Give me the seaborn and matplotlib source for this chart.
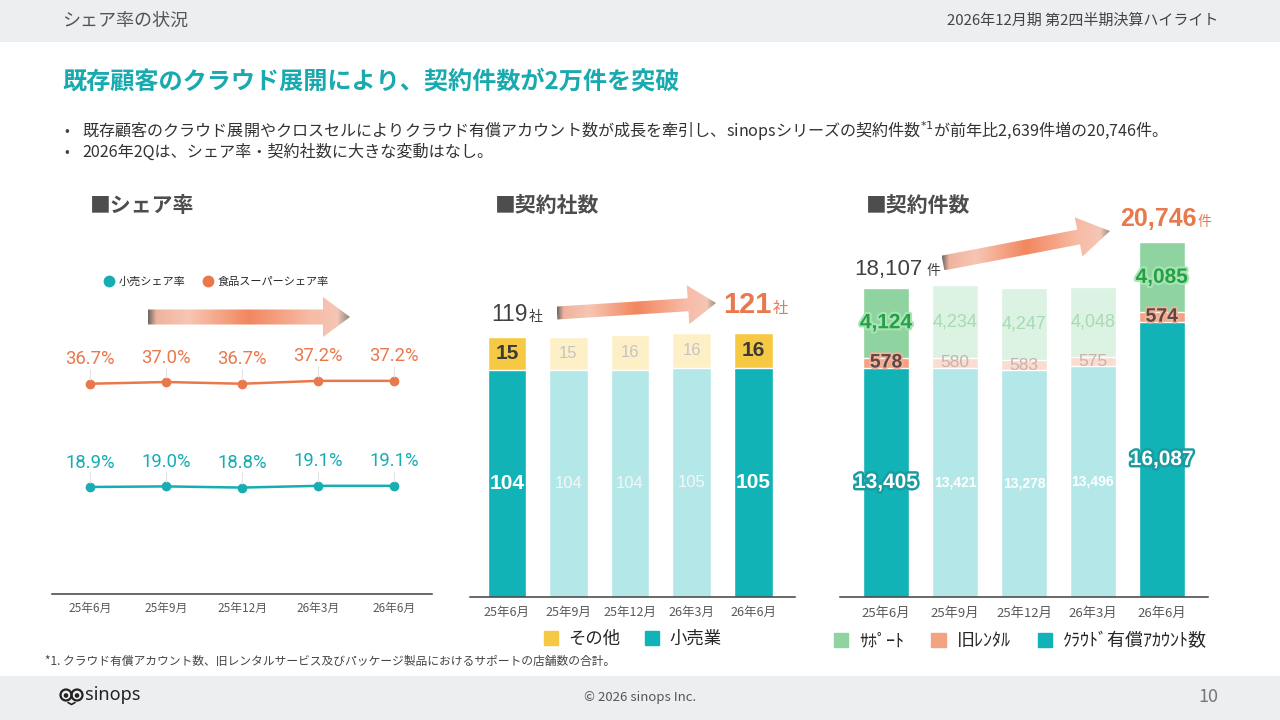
import numpy as np
import pandas as pd
import matplotlib
matplotlib.use('Agg')
import matplotlib.pyplot as plt
import seaborn as sns
from matplotlib.patches import Polygon, Rectangle, Circle
from matplotlib.lines import Line2D
from matplotlib.colors import LinearSegmentedColormap
import matplotlib.patheffects as pe

# data
periods = ['25年6月', '25年9月', '25年12月', '26年3月', '26年6月']
retail_share = [18.9, 19.0, 18.8, 19.1, 19.1]
super_share = [36.7, 37.0, 36.7, 37.2, 37.2]
companies_retail = [104, 104, 104, 105, 105]
companies_other = [15, 15, 16, 16, 16]
accounts_cloud = [13405, 13421, 13278, 13496, 16087]
accounts_rental = [578, 580, 583, 575, 574]
accounts_support = [4124, 4234, 4247, 4048, 4085]
highlight = [True, False, False, False, True]

TEAL = '#11b3b6'
TEAL_L = '#b4e8e8'
YEL = '#f6c944'
YEL_L = '#fdf0c6'
SAL = '#f3a283'
SAL_L = '#fbdcd1'
GRN = '#8fd3a1'
GRN_L = '#dcf2e2'
ORANGE = '#e9784d'
LINE_TEAL = '#17adb3'
DARK = '#4d4d4d'

sns.set_theme(style='white')
plt.rcParams['font.family'] = ['Noto Sans CJK JP', 'DejaVu Sans']
NUM = ['Liberation Sans', 'Noto Sans CJK JP']

fig = plt.figure(figsize=(12.8, 7.2), dpi=100)
fig.patch.set_facecolor('white')

# overlay axes in pixel coordinates for slide decoration
bg = fig.add_axes([0, 0, 1, 1], zorder=10)
bg.set_facecolor('none')
bg.axis('off')


def px_axes(x0, y0, x1, y1):
    return fig.add_axes([x0 / 1280, 1 - y1 / 720, (x1 - x0) / 1280, (y1 - y0) / 720])


def pal(strong, light):
    return {p: (strong if h else light) for p, h in zip(periods, highlight)}


arrow_cmap = LinearSegmentedColormap.from_list('arr', [
    (0.0, '#6f6866'), (0.04, '#efb39d'), (0.2, '#f7c6b3'), (0.5, '#f2875f'),
    (0.8, '#f7bba5'), (0.94, '#f5c6b5'), (1.0, '#8e8582')])


def grad_arrow(p0, p1, shaft, head_w, head_len):
    x0, y0 = p0
    x1, y1 = p1
    L = np.hypot(x1 - x0, y1 - y0)
    ux, uy = (x1 - x0) / L, (y1 - y0) / L
    nx, ny = -uy, ux
    bx, by = x1 - ux * head_len, y1 - uy * head_len
    pts = [(x0 + nx * shaft / 2, y0 + ny * shaft / 2),
           (bx + nx * shaft / 2, by + ny * shaft / 2),
           (bx + nx * head_w / 2, by + ny * head_w / 2),
           (x1, y1),
           (bx - nx * head_w / 2, by - ny * head_w / 2),
           (bx - nx * shaft / 2, by - ny * shaft / 2),
           (x0 - nx * shaft / 2, y0 - ny * shaft / 2)]
    poly = Polygon(pts, closed=True, facecolor='none', edgecolor='none')
    bg.add_patch(poly)
    xs = [p[0] for p in pts]
    ys = [p[1] for p in pts]
    im = bg.imshow(np.linspace(0, 1, 256).reshape(1, -1), cmap=arrow_cmap,
                   extent=(min(xs), max(xs), max(ys), min(ys)), aspect='auto',
                   interpolation='bilinear')
    im.set_clip_path(poly)


# header / footer
bg.add_patch(Rectangle((0, 0), 1280, 42, color='#eceeef', lw=0))
bg.add_patch(Rectangle((0, 676), 1280, 44, color='#eceeef', lw=0))
bg.text(62, 21, 'シェア率の状況', fontsize=13, color='#555555', va='center')
bg.text(1218, 21, '2026年12月期 第2四半期決算ハイライト', fontsize=10.8,
        color='#444444', va='center', ha='right')
bg.text(62, 82, '既存顧客のクラウド展開により、契約件数が2万件を突破',
        fontsize=17.4, fontweight='bold', color='#19aab0', va='center')
bg.text(64, 131, '•', fontsize=10, color='#444444', va='center')
bg.text(82, 131, '既存顧客のクラウド展開やクロスセルによりクラウド有償アカウント数が成長を牽引し、'
        'sinopsシリーズの契約件数$^{*1}$が前年比2,639件増の20,746件。',
        fontsize=11.6, color='#333333', va='center')
bg.text(64, 152, '•', fontsize=10, color='#444444', va='center')
bg.text(82, 152, '2026年2Qは、シェア率・契約社数に大きな変動はなし。',
        fontsize=11.6, color='#333333', va='center')
bg.text(45, 661, '*1. クラウド有償アカウント数、旧レンタルサービス及びパッケージ製品におけるサポートの店舗数の合計。',
        fontsize=8.5, color='#444444', va='center')
bg.text(640, 697, '© 2026 sinops Inc.', fontsize=9.5, color='#555555', va='center', ha='center')
bg.text(1218, 697, '10', fontsize=13, color='#777777', va='center', ha='right')
# logo
for cx in (66, 77):
    bg.add_patch(Circle((cx, 695), 5.5, fill=False, ec='#222222', lw=1.6))
    bg.add_patch(Circle((cx, 695.5), 1.6, color='#222222'))
bg.plot([68, 71.5, 75], [702.5, 704.5, 702.5], color='#222222', lw=1.2)
bg.text(85, 695, 'sinops', fontsize=13, color='#222222', va='center',
        fontweight='medium', family=['Noto Sans', 'DejaVu Sans'])

# section titles
for x, t in [(90, '■シェア率'), (495, '■契約社数'), (866, '■契約件数')]:
    bg.text(x, 205, t, fontsize=15, fontweight='bold', color=DARK, va='center')

grad_arrow((148, 317), (350, 317), 15, 40, 27)
grad_arrow((557, 313), (716, 303), 13, 39, 28)
grad_arrow((943, 263), (1110, 231), 15, 40, 32)

# ---------- share chart ----------
ax1 = px_axes(52, 246, 432, 594)
share_df = pd.DataFrame({
    'period': periods * 2,
    'share': super_share + retail_share,
    'series': ['食品スーパーシェア率'] * 5 + ['小売シェア率'] * 5,
})
sns.lineplot(data=share_df, x='period', y='share', hue='series', sort=False,
             palette={'食品スーパーシェア率': ORANGE, '小売シェア率': LINE_TEAL},
             marker='o', markersize=7, markeredgewidth=0, linewidth=1.8,
             legend=False, ax=ax1)
for vals, col in [(super_share, ORANGE), (retail_share, LINE_TEAL)]:
    for i, v in enumerate(vals):
        ax1.vlines(i, v + 0.7, v + 2.6, color='#e4e4e4', lw=0.8)
        ax1.text(i, v + 4.2, f'{v:.1f}%', ha='center', va='center', fontsize=13.3,
                 color=col, family=['Roboto', 'DejaVu Sans'])
ax1.set_xlim(-0.5, 4.5)
ax1.set_ylim(0.45, 60.45)
handles = [Line2D([], [], ls='none', marker='o', markersize=8.5, color=LINE_TEAL, mec='none'),
           Line2D([], [], ls='none', marker='o', markersize=8.5, color=ORANGE, mec='none')]
ax1.legend(handles, ['小売シェア率', '食品スーパーシェア率'], loc='center left',
           bbox_to_anchor=(0.11, (594 - 282) / 348), ncol=2, frameon=False,
           fontsize=8, handletextpad=0.3, columnspacing=1.6, handlelength=1.0)

# ---------- companies chart ----------
ax2 = px_axes(470, 248, 795, 597)
comp_total = [r + o for r, o in zip(companies_retail, companies_other)]
sns.barplot(x=periods, y=comp_total, hue=periods, order=periods, hue_order=periods,
            palette=pal(YEL, YEL_L), width=0.63, saturation=1, legend=False, ax=ax2)
sns.barplot(x=periods, y=companies_retail, hue=periods, order=periods, hue_order=periods,
            palette=pal(TEAL, TEAL_L), width=0.63, saturation=1, legend=False, ax=ax2)
for i, (r, o, h) in enumerate(zip(companies_retail, companies_other, highlight)):
    if h:
        ax2.text(i, r / 2, f'{r}', ha='center', va='center', fontsize=15,
                 fontweight='bold', color='white', family=NUM)
        ax2.text(i, r + o / 2, f'{o}', ha='center', va='center', fontsize=15,
                 fontweight='bold', color='#3a3a3a', family=NUM)
    else:
        ax2.text(i, r / 2, f'{r}', ha='center', va='center', fontsize=12,
                 color='#f4f7f7', family=NUM)
        ax2.text(i, r + o / 2, f'{o}', ha='center', va='center', fontsize=12,
                 color='#c4c4c4', family=NUM)
ax2.text(0.34, comp_total[0] + 7.5, f'{comp_total[0]}', ha='right', va='baseline',
         fontsize=16.5, color='#404040', family=NUM)
ax2.text(0.35, comp_total[0] + 7.5, '社', ha='left', va='baseline', fontsize=10, color='#404040')
ax2.text(4.30, comp_total[4] + 9.3, f'{comp_total[4]}', ha='right', va='baseline',
         fontsize=21, fontweight='bold', color=ORANGE, family=NUM)
ax2.text(4.32, comp_total[4] + 9.3, '社', ha='left', va='baseline', fontsize=11, color=ORANGE)
ax2.set_xlim(-0.6, 4.68)
ax2.set_ylim(0, 160)
leg2 = [Rectangle((0, 0), 1, 1, color=YEL), Rectangle((0, 0), 1, 1, color=TEAL)]
ax2.legend(leg2, ['その他', '小売業'], loc='center', bbox_to_anchor=(0.5, -(639 - 597) / 349),
           ncol=2, frameon=False, fontsize=12.5, handlelength=0.8, handleheight=0.8,
           handletextpad=0.6, columnspacing=1.4)

# ---------- accounts chart ----------
ax3 = px_axes(840, 221, 1208, 597)
acc_mid = [c + r for c, r in zip(accounts_cloud, accounts_rental)]
acc_total = [m + s for m, s in zip(acc_mid, accounts_support)]
for vals, strong, light in [(acc_total, GRN, GRN_L), (acc_mid, SAL, SAL_L),
                            (accounts_cloud, TEAL, TEAL_L)]:
    sns.barplot(x=periods, y=vals, hue=periods, order=periods, hue_order=periods,
                palette=pal(strong, light), width=0.66, saturation=1, legend=False, ax=ax3)
for i, h in enumerate(highlight):
    c, r, s = accounts_cloud[i], accounts_rental[i], accounts_support[i]
    if h:
        ax3.text(i, c / 2, f'{c:,}', ha='center', va='center', fontsize=15, fontweight='bold',
                 color='white', family=NUM,
                 path_effects=[pe.withStroke(linewidth=3.5, foreground='#189ca2')])
        ax3.text(i, c + r / 2, f'{r:,}', ha='center', va='center', fontsize=14, fontweight='bold',
                 color='#5b4844', family=NUM,
                 path_effects=[pe.withStroke(linewidth=2.5, foreground='#f5b39b')])
        ax3.text(i, c + r + s / 2, f'{s:,}', ha='center', va='center', fontsize=15,
                 fontweight='bold', color='#25a143', family=NUM,
                 path_effects=[pe.withStroke(linewidth=3, foreground='#a9e4b7')])
    else:
        ax3.text(i, c / 2, f'{c:,}', ha='center', va='center', fontsize=10, fontweight='bold',
                 color='white', family=NUM)
        ax3.text(i, c + r / 2, f'{r:,}', ha='center', va='center', fontsize=12.5,
                 color='#c8b2ab', family=NUM)
        ax3.text(i, c + r + s / 2, f'{s:,}', ha='center', va='center', fontsize=13,
                 color='#a6dbb4', family=NUM)
ax3.text(0.52, acc_total[0] + 760, f'{acc_total[0]:,}', ha='right', va='baseline',
         fontsize=16, color='#404040', family=NUM)
ax3.text(0.58, acc_total[0] + 760, '件', ha='left', va='baseline', fontsize=10, color='#404040')
ax3.text(4.50, acc_total[4] + 980, f'{acc_total[4]:,}', ha='right', va='baseline',
         fontsize=18, fontweight='bold', color=ORANGE, family=NUM)
ax3.text(4.52, acc_total[4] + 980, '件', ha='left', va='baseline', fontsize=10, color=ORANGE)
ax3.set_xlim(-0.67, 4.67)
ax3.set_ylim(0, 22000)
leg3 = [Rectangle((0, 0), 1, 1, color=GRN), Rectangle((0, 0), 1, 1, color=SAL),
        Rectangle((0, 0), 1, 1, color=TEAL)]
ax3.legend(leg3, ['ｻﾎﾟｰﾄ', '旧ﾚﾝﾀﾙ', 'ｸﾗｳﾄﾞ有償ｱｶｳﾝﾄ数'], loc='center',
           bbox_to_anchor=(0.49, -(641 - 597) / 376), ncol=3, frameon=False, fontsize=13,
           handlelength=0.8, handleheight=0.8, handletextpad=0.6, columnspacing=1.5)

for ax, fs, pad in [(ax1, 8.5, 6), (ax2, 9, 6.5), (ax3, 9.5, 7)]:
    ax.set_facecolor('none')
    ax.set_xlabel('')
    ax.set_ylabel('')
    ax.set_yticks([])
    for side in ('top', 'right', 'left'):
        ax.spines[side].set_visible(False)
    ax.spines['bottom'].set_color('#404040')
    ax.spines['bottom'].set_linewidth(1.1)
    ax.tick_params(axis='x', length=0, pad=pad, labelsize=fs, labelcolor='#595959')
    ax.set_xticks(range(len(periods)))
    ax.set_xticklabels(periods)

bg.set_xlim(0, 1280)
bg.set_ylim(720, 0)
fig.savefig('out.png', dpi=100)
